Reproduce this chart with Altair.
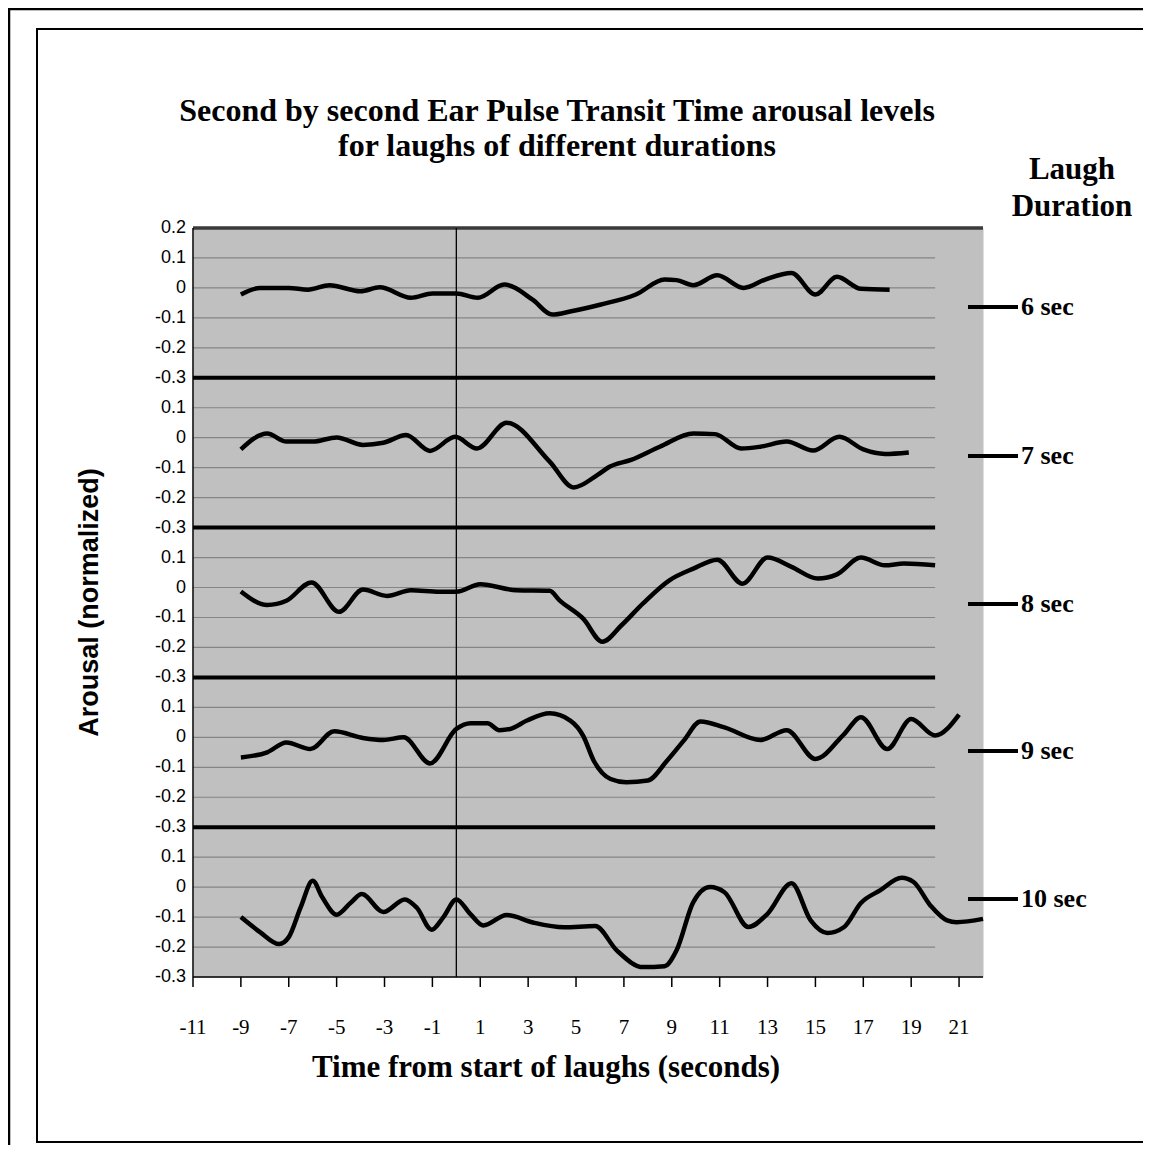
import altair as alt
import pandas as pd

# ---------------- data ----------------
durations = ["6 sec", "7 sec", "8 sec", "9 sec", "10 sec"]

x6 = [-9, -8.2, -7, -6.2, -5.3, -4, -3.2, -1.9, -1, 0, 0.9, 2, 3.2, 4, 4.8, 6, 7.5, 8.7, 9.2, 9.9,
      10.9, 12, 12.9, 14, 15, 15.9, 16.9, 18.1]
y6 = [-0.022, 0.0, 0.0, -0.006, 0.009, -0.011, 0.002, -0.033, -0.019, -0.019, -0.033, 0.011, -0.04,
      -0.089, -0.078, -0.056, -0.022, 0.028, 0.026, 0.009, 0.042, 0.0, 0.028, 0.05, -0.022, 0.037,
      -0.003, -0.006]

x7 = [-9, -7.9, -7.1, -6, -5, -3.9, -3.05, -2.1, -1.1, -0.05, 0.86, 2.1, 3.9, 4.9, 5.9, 6.4, 7.3,
      8.5, 9.9, 10.8, 11.9, 12.7, 13.8, 14.9, 16, 17, 17.9, 18.9]
y7 = [-0.039, 0.014, -0.013, -0.013, 0.001, -0.024, -0.017, 0.009, -0.044, 0.003, -0.036, 0.05,
      -0.08, -0.166, -0.124, -0.097, -0.074, -0.03, 0.014, 0.012, -0.036, -0.03, -0.013, -0.043,
      0.003, -0.039, -0.054, -0.049]

x8 = [-9, -7.9, -7.1, -6.05, -4.9, -3.9, -2.9, -1.9, -0.7, 0, 1, 2.5, 3.9, 4.3, 5.3, 6.1, 6.9, 7.8,
      8.9, 9.9, 10.9, 11.95, 13, 14, 15.1, 15.9, 16.9, 17.9, 18.7, 20]
y8 = [-0.013, -0.058, -0.044, 0.017, -0.081, -0.007, -0.028, -0.009, -0.014, -0.014, 0.011, -0.009,
      -0.011, -0.042, -0.104, -0.181, -0.126, -0.053, 0.024, 0.063, 0.093, 0.013, 0.1, 0.069, 0.03,
      0.044, 0.1, 0.074, 0.08, 0.074]

x9 = [-9, -7.9, -7.1, -6.1, -5.1, -3.9, -3.05, -2.2, -1.1, 0, 0.6, 1.3, 1.8, 2.25, 2.95, 3.9, 4.76,
      5.3, 5.74, 6.44, 7.1, 8.0, 8.8, 9.5, 10.2, 11.2, 12.7, 13.8, 15, 16.2, 16.9, 18, 19, 20, 21]
y9 = [-0.067, -0.05, -0.017, -0.039, 0.02, -0.002, -0.009, 0.0, -0.087, 0.028, 0.047, 0.047, 0.024,
      0.028, 0.056, 0.08, 0.056, 0.005, -0.078, -0.139, -0.15, -0.144, -0.078, -0.011, 0.053, 0.033,
      -0.009, 0.024, -0.072, 0.011, 0.067, -0.039, 0.061, 0.006, 0.076]

x10 = [-9, -8.2, -7.4, -7, -6.5, -6, -5.6, -5, -4.4, -3.95, -3.05, -2.15, -1.65, -1.03, -0.54, 0,
       0.58, 1.13, 2.1, 3.2, 4.5, 5.8, 6.7, 7.8, 8.7, 9.2, 9.9, 10.6, 11.2, 12.2, 13, 14, 14.8, 15.5,
       16.2, 16.9, 17.7, 18.6, 19.1, 19.8, 20.5, 20.9, 22]
y10 = [-0.1, -0.15, -0.19, -0.167, -0.067, 0.021, -0.034, -0.092, -0.051, -0.023, -0.083, -0.041,
       -0.069, -0.142, -0.1, -0.041, -0.089, -0.128, -0.093, -0.118, -0.134, -0.13, -0.211, -0.267,
       -0.264, -0.211, -0.05, 0.0, -0.017, -0.133, -0.089, 0.013, -0.111, -0.153, -0.133, -0.053,
       -0.011, 0.031, 0.017, -0.061, -0.111, -0.117, -0.106]

# level (in each panel's own units) where the duration label sits
label_levels = [-0.064, -0.061, -0.055, -0.046, -0.040]

x_ticks = list(range(-11, 22, 2))
y_tick_labels = ["0.2", "0.1", "0", "-0.1", "-0.2", "-0.3"] + ["0.1", "0", "-0.1", "-0.2", "-0.3"] * 4
panel_offset = 0.5
x_min, x_max, grid_end = -11, 22, 20
y_top, n_steps = 0.2, 25

title_lines = ["Second by second Ear Pulse Transit Time arousal levels",
               "for laughs of different durations"]
legend_title = ["Laugh", "Duration"]
x_title = "Time from start of laughs (seconds)"
y_title = "Arousal (normalized)"

# ---------------- tables ----------------
series = [(x6, y6), (x7, y7), (x8, y8), (x9, y9), (x10, y10)]
rows = []
for k, (xs, ys) in enumerate(series):
    for xv, yv in zip(xs, ys):
        rows.append({"series": durations[k], "x": xv, "yu": yv - panel_offset * k})
df = pd.DataFrame(rows)

y_values = [round(y_top - 0.1 * i, 2) for i in range(n_steps + 1)]
ytick_df = pd.DataFrame({"y": y_values, "label": y_tick_labels})
xtick_df = pd.DataFrame({"x": x_ticks, "label": [str(t) for t in x_ticks]})

grid_rows = []
for i, v in enumerate(y_values):
    if i == 0 or i == n_steps:
        continue
    grid_rows.append({"y": v, "x0": x_min, "x1": grid_end, "kind": "thick" if i % 5 == 0 else "thin"})
grid = pd.DataFrame(grid_rows)
thin = grid[grid.kind == "thin"]
thick = grid[grid.kind == "thick"]
top_line = pd.DataFrame({"y": [y_top], "x0": [x_min], "x1": [x_max]})
zero_line = pd.DataFrame({"x": [0]})
labels = pd.DataFrame({"label": durations,
                       "yu": [lv - panel_offset * k for k, lv in enumerate(label_levels)]})
one = pd.DataFrame({"a": [0]})

W, H = 790, 749

# ---------------- scales ----------------
xscale = alt.Scale(domain=[x_min, x_max], nice=False, zero=False)
yscale = alt.Scale(domain=[y_values[-1], y_top], nice=False, zero=False)


def X(field):
    return alt.X(field, scale=xscale, axis=None)


def Y(field):
    return alt.Y(field, scale=yscale, axis=None)


# ---------------- layers ----------------
outer = alt.Chart(one).mark_rect(filled=False, stroke="black", strokeWidth=2.5).encode(
    x=alt.value(-184), x2=alt.value(1100), y=alt.value(-219), y2=alt.value(1100))
inner = alt.Chart(one).mark_rect(filled=False, stroke="black", strokeWidth=2).encode(
    x=alt.value(-156), x2=alt.value(953), y=alt.value(-199), y2=alt.value(914))

thin_rules = alt.Chart(thin).mark_rule(color="#858585", strokeWidth=1.2).encode(
    x=X("x0:Q"), x2="x1:Q", y=Y("y:Q"))
thick_rules = alt.Chart(thick).mark_rule(color="black", strokeWidth=4).encode(
    x=X("x0:Q"), x2="x1:Q", y=Y("y:Q"))
top_rule = alt.Chart(top_line).mark_rule(color="#3a3a3a", strokeWidth=3.5).encode(
    x=X("x0:Q"), x2="x1:Q", y=Y("y:Q"))
zero_rule = alt.Chart(zero_line).mark_rule(color="black", strokeWidth=1.3).encode(x=X("x:Q"))

lines = alt.Chart(df).mark_line(color="black", strokeWidth=4.5, interpolate="monotone").encode(
    x=X("x:Q"), y=Y("yu:Q"), detail="series:N", order="x:Q")

# axes drawn through the scales
x_domain = alt.Chart(one).mark_rule(color="black", strokeWidth=1.5).encode(
    x=alt.value(0), x2=alt.value(W), y=alt.value(H))
y_domain = alt.Chart(one).mark_rule(color="black", strokeWidth=1.5).encode(
    x=alt.value(0), y=alt.value(0), y2=alt.value(H))
x_tick_marks = alt.Chart(xtick_df).mark_rule(color="black", strokeWidth=1.5).encode(
    x=X("x:Q"), y=alt.value(H), y2=alt.value(H + 10))
x_tick_labels = alt.Chart(xtick_df).mark_text(font="Liberation Serif", fontSize=21,
                                              color="black", baseline="middle").encode(
    x=X("x:Q"), y=alt.value(H + 51), text="label:N")
y_tick_text = alt.Chart(ytick_df).mark_text(font="Liberation Sans", fontSize=18, color="black",
                                            align="right", baseline="middle").encode(
    x=alt.value(-7), y=Y("y:Q"), text="label:N")
x_title_text = alt.Chart(one).mark_text(text=x_title, font="Liberation Serif", fontSize=31,
                                        fontWeight="bold", color="black", baseline="middle").encode(
    x=alt.value(353), y=alt.value(H + 91))
y_title_text = alt.Chart(one).mark_text(text=y_title, font="Liberation Sans", fontSize=27,
                                        fontWeight="bold", color="black", baseline="middle",
                                        angle=270).encode(x=alt.value(-103), y=alt.value(H / 2))

dash = alt.Chart(labels).mark_rule(color="black", strokeWidth=4).encode(
    x=alt.value(775), x2=alt.value(825), y=Y("yu:Q"))
dash_text = alt.Chart(labels).mark_text(align="left", baseline="middle", font="Liberation Serif",
                                        fontSize=26, fontWeight="bold", color="black").encode(
    x=alt.value(828), y=Y("yu:Q"), text="label:N")


def text_line(txt, px, py, size=31):
    return alt.Chart(one).mark_text(text=txt, align="center", baseline="middle",
                                    font="Liberation Serif", fontSize=size, fontWeight="bold",
                                    color="black").encode(x=alt.value(px), y=alt.value(py))


title1 = text_line(title_lines[0], 364, -117, 32)
title2 = text_line(title_lines[1], 364, -82, 32)
leg1 = text_line(legend_title[0], 879, -58)
leg2 = text_line(legend_title[1], 879, -21)

chart = alt.layer(
    outer, inner, thin_rules, thick_rules, top_rule, zero_rule, lines,
    x_domain, y_domain, x_tick_marks, x_tick_labels, y_tick_text, x_title_text, y_title_text,
    dash, dash_text, title1, title2, leg1, leg2
).properties(
    width=W, height=H,
    autosize=alt.AutoSizeParams(type="none"),
    padding={"left": 185, "top": 220, "right": 160, "bottom": 168},
    background="white",
).configure_view(fill="#C0C0C0", stroke="transparent")

chart.save("out.html", embed_options={"renderer": "svg", "actions": False})
